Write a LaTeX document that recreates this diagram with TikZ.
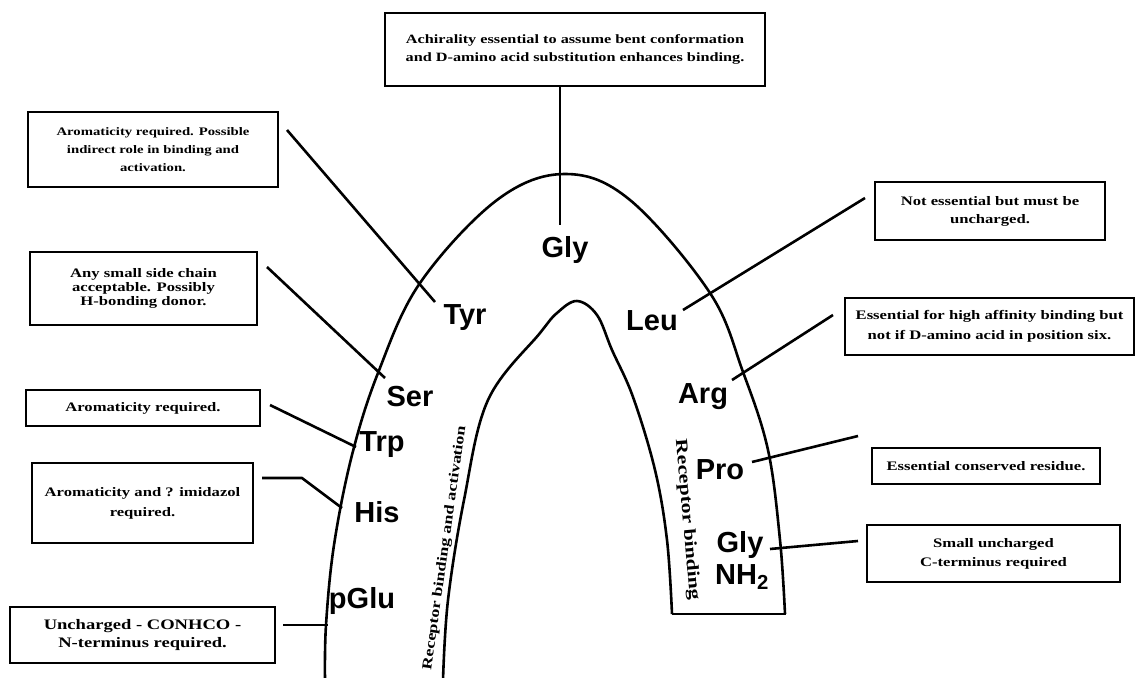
\documentclass[tikz,border=0pt]{standalone}
\usepackage{fontspec}
\setmainfont{Liberation Serif}
\newfontfamily\boxfont{Liberation Serif}[FakeStretch=1.28]
\newfontfamily\labfont{Liberation Sans}
\begin{document}
\begin{tikzpicture}[x=1pt,y=-1pt,
  box/.style={draw,line width=2.2pt,align=center,inner sep=0pt},
  bf/.style={font=\boxfont\fontsize{13}{#1}\selectfont\bfseries},
  res/.style={font=\labfont\fontsize{29}{32}\selectfont\bfseries,inner sep=0pt},
  arch/.style={line width=2.6pt,line join=round},
  conn/.style={line width=2.6pt,line join=round},
  rot/.style={font=\boxfont\fontsize{#1}{19}\selectfont\bfseries,inner sep=0pt}]
\useasboundingbox[fill=white] (0,0) rectangle (1137,677);

% arches
\draw[arch] plot[smooth,tension=0.6] coordinates {(325,680) (326,625) (334,545) (352,455) (378,373) (420,283) (497,200) (565,174) (630,200) (710,293) (743,372) (768,450) (780,540) (785,614)};
\draw[arch] plot[smooth,tension=0.6] coordinates {(443,680) (448,600) (464,500) (488,400) (540,333) (557,313) (577,301) (597,315) (612,350) (633,397) (655,470) (667,540) (672,614)};
\draw[arch] (672,614) -- (786,614);

% boxes
\node[box,minimum width=380pt,minimum height=73pt,font=\boxfont\fontsize{12.7}{18}\selectfont\bfseries] (topbox) at (575,49.5) {Achirality essential to assume bent conformation\\and D-amino acid substitution enhances binding.};
\node[box,minimum width=250pt,minimum height=75pt,font=\boxfont\fontsize{11.5}{18}\selectfont\bfseries] (tyrbox) at (153,149.5) {Aromaticity required. Possible\\indirect role in binding and\\activation.};
\node[box,bf=14,minimum width=227pt,minimum height=73pt] (serbox) at (143.5,288.5) {Any small side chain\\acceptable. Possibly\\H-bonding donor.};
\node[box,bf=17,minimum width=234pt,minimum height=36pt] (trpbox) at (143,408) {Aromaticity required.};
\node[box,bf=20,minimum width=221pt,minimum height=80pt] (hisbox) at (142.5,503) {Aromaticity and ? imidazol\\required.};
\node[box,minimum width=265pt,minimum height=56pt,font=\boxfont\fontsize{14.5}{18}\selectfont\bfseries] (pglubox) at (142.5,635) {Uncharged - CONHCO -\\N-terminus required.};
\node[box,bf=18,minimum width=230pt,minimum height=58pt] (leubox) at (990,211) {Not essential but must be\\uncharged.};
\node[box,bf=20,minimum width=289pt,minimum height=57pt] (argbox) at (989.5,326.5) {Essential for high affinity binding but\\not if D-amino acid in position six.};
\node[box,bf=17,minimum width=228pt,minimum height=36pt] (probox) at (986,466) {Essential conserved residue.};
\node[box,bf=19,minimum width=253pt,minimum height=57pt] (glybox) at (993.5,553.5) {Small uncharged\\C-terminus required};

% residues
\node[res] (gly) at (565,250) {Gly};
\node[res] (tyr) at (465,318) {Tyr};
\node[res] (ser) at (410,397) {Ser};
\node[res] (trp) at (382,445) {Trp};
\node[res] (his) at (377,512) {His};
\node[res] (pglu) at (362,601) {pGlu};
\node[res] (leu) at (652,321) {Leu};
\node[res] (arg) at (703,397) {Arg};
\node[res] (pro) at (720,470) {Pro};
\node[res] (glyc) at (740,545) {Gly};
\node[res] (nh) at (742,577) {NH\textsubscript{2}};

% rotated labels
\node[rot=14,rotate=82] (rba) at (445,548) {Receptor binding and activation};
\node[rot=17,rotate=-85] (rb) at (687,520) {Receptor binding};

% connector ends
\coordinate (c1a) at (560,86); \coordinate (c1b) at (560,225);
\coordinate (c2a) at (287,130); \coordinate (c2b) at (435,302);
\coordinate (c3a) at (267,267); \coordinate (c3b) at (385,378);
\coordinate (c4a) at (270,405); \coordinate (c4b) at (356,447);
\coordinate (c5a) at (262,478); \coordinate (c5m) at (302,478); \coordinate (c5b) at (342,508);
\coordinate (c6a) at (283,625); \coordinate (c6b) at (328,625);
\coordinate (c7a) at (865,198); \coordinate (c7b) at (683,310);
\coordinate (c8a) at (833,315); \coordinate (c8b) at (732,380);
\coordinate (c9a) at (858,436); \coordinate (c9b) at (752,462);
\coordinate (c10a) at (858,541); \coordinate (c10b) at (770,549);

\draw[conn] (c1a) -- (c1b);
\draw[conn] (c2a) -- (c2b);
\draw[conn] (c3a) -- (c3b);
\draw[conn] (c4a) -- (c4b);
\draw[conn] (c5a) -- (c5m) -- (c5b);
\draw[conn] (c6a) -- (c6b);
\draw[conn] (c7a) -- (c7b);
\draw[conn] (c8a) -- (c8b);
\draw[conn] (c9a) -- (c9b);
\draw[conn] (c10a) -- (c10b);
\end{tikzpicture}
\end{document}
